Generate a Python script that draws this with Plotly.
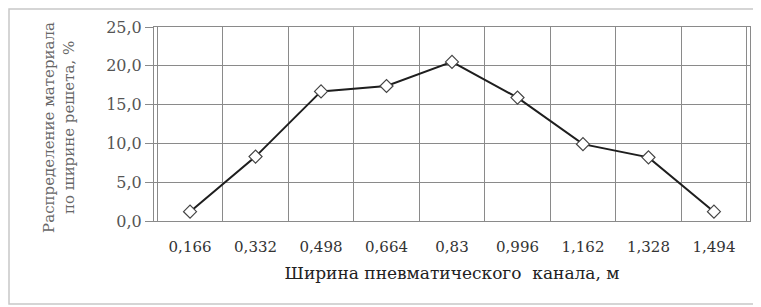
import plotly.graph_objects as go

categories = ["0,166", "0,332", "0,498", "0,664", "0,83", "0,996", "1,162", "1,328", "1,494"]
values = [1.2, 8.3, 16.7, 17.4, 20.5, 15.9, 9.9, 8.2, 1.2]
x_title = "Ширина пневматического  канала, м"
y_title = "Распределение материала<br>по ширине решета, %"

# page body has an 8px margin, so the figure starts at page (8, 8)
OFF = 8
W, H = 761 - OFF, 307 - OFF
L, R, T, B = 154 - OFF, 11, 27 - OFF, 86
pw, ph = W - L - R, H - T - B

fig = go.Figure()
fig.add_trace(go.Scatter(
    x=categories, y=values, mode="lines+markers",
    line=dict(color="#1e1e1e", width=2),
    marker=dict(symbol="diamond", size=10, color="white",
                line=dict(color="#444444", width=1.2)),
    showlegend=False,
))

serif = "DejaVu Serif, serif"
fig.update_layout(
    width=W, height=H,
    margin=dict(l=L, r=R, t=T, b=B),
    paper_bgcolor="white", plot_bgcolor="white",
    separators=", ",
    font=dict(family=serif, size=15, color="#444444"),
    xaxis=dict(
        type="category", tickson="boundaries", showgrid=True,
        gridcolor="#8a8a8a", gridwidth=1, showline=True, mirror=True,
        linecolor="#8a8a8a", ticks="", ticklabelstandoff=12,
        tickfont=dict(family=serif, size=15, color="#333333"),
        title=dict(text=x_title, font=dict(family=serif, size=17, color="#222222"), standoff=12),
    ),
    yaxis=dict(
        range=[0, 25], dtick=5, tickformat=".1f", showgrid=True,
        gridcolor="#8a8a8a", gridwidth=1, showline=True, mirror=True,
        linecolor="#8a8a8a", ticks="outside", ticklen=8, tickcolor="#8a8a8a",
        tickfont=dict(family=serif, size=16, color="#555555"), zeroline=False,
    ),
    annotations=[dict(
        text=y_title, textangle=-90, xref="paper", yref="paper",
        x=(59 - 154) / pw, y=0.48, showarrow=False,
        font=dict(size=15, color="#666666", family=serif),
        xanchor="center", yanchor="middle",
    )],
    shapes=[dict(
        type="rect", xref="paper", yref="paper",
        x0=(1 - L) / pw, x1=(W - 2 - L) / pw,
        y0=(T + ph - (H - 3)) / ph, y1=(T + ph - 1) / ph,
        line=dict(color="#c8c8c8", width=1.5), layer="below",
    )],
)

fig.write_html("out.html")
